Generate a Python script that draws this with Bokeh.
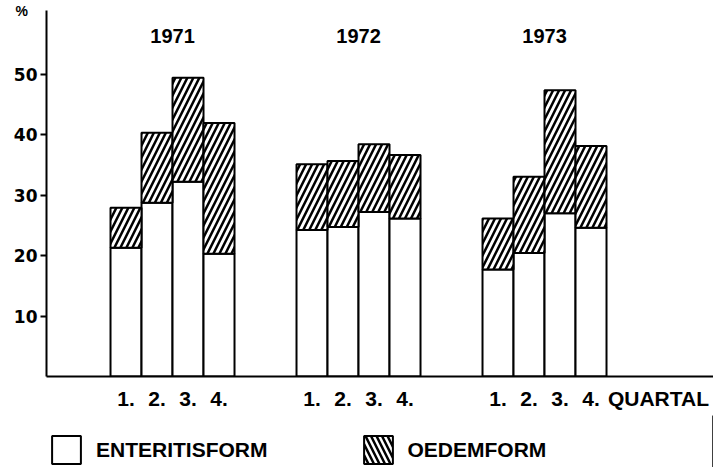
from bokeh.plotting import figure
from bokeh.models import (Range1d, FixedTicker, LabelSet, Legend, LegendItem,
                          ColumnDataSource, Title)
from bokeh.layouts import column
from bokeh.core.properties import value
from bokeh.embed import file_html
from bokeh.resources import INLINE

# ---------------- data ----------------
years = ["1971", "1972", "1973"]
quarters = ["1.", "2.", "3.", "4."]
enteritis = [21.3, 28.7, 32.2, 20.3, 24.2, 24.7, 27.2, 26.1, 17.7, 20.4, 27.0, 24.6]
oedem = [6.6, 11.6, 17.2, 21.6, 10.9, 10.9, 11.2, 10.5, 8.4, 12.6, 20.3, 13.5]
y_ticks = [10, 20, 30, 40, 50]
x_unit_label = "QUARTAL"
y_unit_label = "%"
series_names = ["ENTERITISFORM", "OEDEMFORM"]

# ---------------- layout helpers ----------------
W = 713
H1, H2 = 415, 52
BL, BR, BT, BB = 46, 0, 10, 39
PX_X = 31.0            # px per bar
GROUP_STEP = 6         # bars per group step
frame_w = W - BL - BR
frame_h = H1 - BT - BB
x0 = -1.565
x1 = x0 + frame_w / PX_X
PX_Y = 6.05            # px per percent
y1 = frame_h / PX_Y
base_px = H1 - BB      # y pixel of the zero line

xs, labels_q, tops_e, tops_t = [], [], [], []
for g, _ in enumerate(years):
    for q, ql in enumerate(quarters):
        i = g * len(quarters) + q
        xs.append(GROUP_STEP * g + q + 1)
        labels_q.append(ql)
        tops_e.append(enteritis[i])
        tops_t.append(enteritis[i] + oedem[i])
group_x = [GROUP_STEP * g + 2.5 for g in range(len(years))]
quartal_x = xs[-1] + 0.5 + 52 / PX_X

src = ColumnDataSource(dict(x=xs, e=tops_e, t=tops_t))

FONT = "Liberation Sans"

p = figure(width=W, height=H1, output_backend="svg", toolbar_location=None,
           title=None, x_range=Range1d(x0, x1), y_range=Range1d(0, y1),
           min_border_left=BL, min_border_right=BR, min_border_top=BT,
           min_border_bottom=BB, background_fill_color="white",
           border_fill_color="white")
p.outline_line_color = None
p.xgrid.visible = False
p.ygrid.visible = False

# "%" unit beside the top of the y axis
p.add_layout(Title(text=y_unit_label, align="left", offset=-31, standoff=-17,
                   text_font=FONT, text_font_style="bold", text_font_size="14px",
                   text_color="black"), "above")

# bars
p.vbar(x="x", top="e", bottom=0, width=1, source=src, fill_color="white",
       line_color="black", line_width=2)
p.vbar(x="x", top="t", bottom="e", width=1, source=src, fill_color="white",
       line_color="black", line_width=2, hatch_pattern="/", hatch_color="black",
       hatch_weight=2.5, hatch_scale=12)

# y axis
ya = p.yaxis[0]
ya.ticker = FixedTicker(ticks=y_ticks)
ya.major_label_text_font = "DejaVu Sans"
ya.major_label_text_font_style = "bold"
ya.major_label_text_font_size = "17px"
ya.major_label_text_color = "black"
ya.major_label_standoff = 3
ya.major_tick_out = 6
ya.major_tick_in = 0
ya.minor_tick_out = 0
ya.minor_tick_in = 0
ya.axis_line_width = 2
ya.major_tick_line_width = 2
ya.axis_line_color = "black"
ya.major_tick_line_color = "black"

# x axis: quarter labels at bar centres, plus the unit word
xa = p.xaxis[0]
xa.ticker = FixedTicker(ticks=xs + [quartal_x])
overrides = {x: l for x, l in zip(xs, labels_q)}
overrides[quartal_x] = x_unit_label
xa.major_label_overrides = overrides
xa.major_label_text_font = FONT
xa.major_label_text_font_style = "bold"
xa.major_label_text_font_size = "21px"
xa.major_label_text_color = "black"
xa.major_label_standoff = 10
xa.major_tick_out = 0
xa.major_tick_in = 0
xa.minor_tick_out = 0
xa.minor_tick_in = 0
xa.axis_line_width = 2
xa.axis_line_color = "black"

# year labels
ysrc2 = ColumnDataSource(dict(x=group_x, y=[(base_px - 42) / PX_Y] * len(years), t=years))
p.add_layout(LabelSet(x="x", y="y", text="t", source=ysrc2, text_align="center",
                      text_baseline="alphabetic", text_font=value(FONT),
                      text_font_style="bold", text_font_size="20px",
                      text_color="black"))

# ---------------- legend strip ----------------
q = figure(width=W, height=H2, output_backend="svg", toolbar_location=None,
           title=None, x_range=Range1d(0, 1), y_range=Range1d(0, 1),
           x_axis_location=None, y_axis_location=None,
           min_border_left=0, min_border_right=0, min_border_top=0,
           min_border_bottom=0, background_fill_color="white",
           border_fill_color="white")
q.outline_line_color = None
q.xgrid.visible = False
q.ygrid.visible = False
# swatch-only renderers: their single bar lies outside the visible range
offscreen = dict(x=[5], top=[1])
r1 = q.vbar(x="x", top="top", width=1, source=ColumnDataSource(offscreen),
            fill_color="white", line_color="black", line_width=2)
r2 = q.vbar(x="x", top="top", width=1, source=ColumnDataSource(offscreen),
            fill_color="white", line_color="black", line_width=2,
            hatch_pattern="\\", hatch_color="black", hatch_weight=2.5, hatch_scale=11)
leg = Legend(items=[LegendItem(label=series_names[0], renderers=[r1]),
                    LegendItem(label=series_names[1], renderers=[r2])],
             orientation="horizontal", location=(2, 0),
             glyph_width=36, glyph_height=35, label_standoff=12, spacing=92,
             padding=0, margin=0, border_line_alpha=0, background_fill_alpha=0,
             label_text_font=FONT, label_text_font_style="bold",
             label_text_font_size="21px", label_text_color="black")
q.add_layout(leg, "center")

layout = column(p, q, spacing=0)
open("out.html", "w").write(file_html(layout, INLINE))
